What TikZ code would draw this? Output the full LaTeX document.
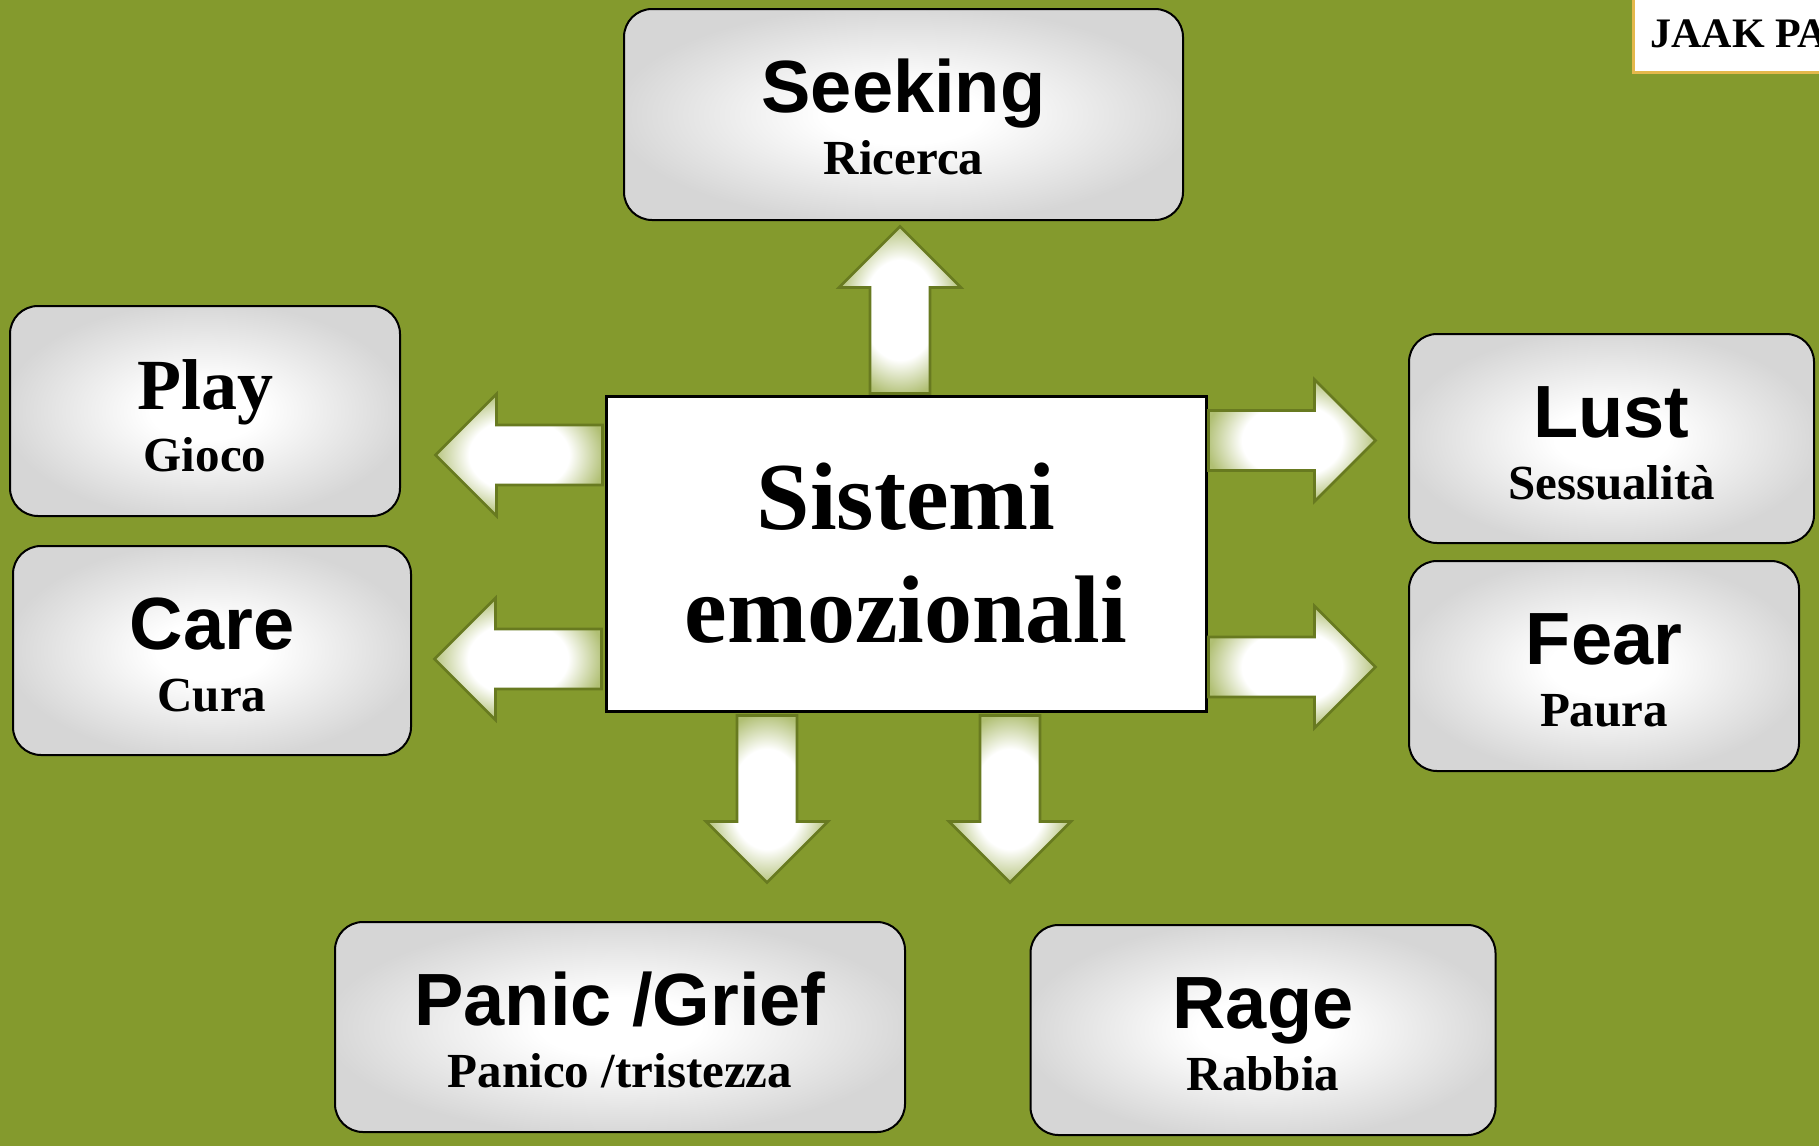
\documentclass[tikz,border=0pt]{standalone}
\usepackage{fontspec}
\setmainfont{Liberation Serif}
\setsansfont{Liberation Sans}
\usetikzlibrary{calc}

\definecolor{bgolive}{RGB}{132,154,45}
\definecolor{arrowline}{RGB}{104,122,32}
\definecolor{arrowedge}{RGB}{176,191,115}
\definecolor{boxedge}{RGB}{214,214,214}
\definecolor{jaakline}{RGB}{228,184,76}

\pgfdeclareradialshading{arrowshade}{\pgfpoint{0bp}{0bp}}{color(0bp)=(white); color(15bp)=(white); color(26bp)=(arrowedge); color(50bp)=(arrowedge)}
\pgfdeclareradialshading{boxshade}{\pgfpoint{0bp}{0bp}}{color(0bp)=(white); color(7bp)=(white); color(26bp)=(boxedge); color(50bp)=(boxedge)}

\tikzset{
  box/.style={draw=black, line width=1pt, rounded corners=14pt, shade, shading=boxshade, inner sep=0pt},
  title/.style={anchor=base, inner sep=0pt, font=\sffamily\bfseries\fontsize{37}{44}\selectfont},
  subtitle/.style={anchor=base, inner sep=0pt, font=\bfseries\fontsize{24.5}{29}\selectfont},
  fatarrow/.pic={
    \path[shade, shading=arrowshade, draw=arrowline, line width=1.3pt]
      (0,-30) -- (106,-30) -- (106,-61) -- (167,0) -- (106,61) -- (106,30) -- (0,30) -- cycle;
  }
}

\begin{document}
\begin{tikzpicture}[x=0.5pt, y=-0.5pt]
    \useasboundingbox (0,0) rectangle (1819,1146);
    \fill[bgolive] (0,0) rectangle (1819,1146);
    \clip (0,0) rectangle (1819,1146);

    % label in the corner
    \draw[jaakline, line width=1.5pt, fill=white] (1633,-10) rectangle (1840,72);
    \node[anchor=base west, inner sep=0pt, font=\bfseries\fontsize{21}{25}\selectfont] (jaak) at (1650,47) {JAAK PA};

    \node[draw=black, fill=white, line width=1.5pt, inner sep=0pt,
          minimum width=300pt, minimum height=157.5pt, align=center,
          font=\bfseries\fontsize{48}{56.5}\selectfont] (sistemi) at (906,553.5) {Sistemi\\emozionali};

    \foreach \a/\dx/\dy/\r in {north/-6/-1/90, west/-2/-98.5/180, west/-3/105.5/180,
                               east/1/-113/0, east/1/113.5/0, south/-139/3/-90, south/104/3/-90} {
      \pic[rotate=\r] at ($(sistemi.\a)+(\dx,\dy)$) {fatarrow};
    }

    \node[box, minimum width=279.5pt, minimum height=105.5pt] (seeking) at (903.5,114.5) {};
    \node[title] (seekingT) at ($(seeking.north)+(0,104)$) {Seeking};
    \node[subtitle] (seekingS) at ($(seeking.north)+(0,166)$) {Ricerca};

    \node[box, minimum width=195pt, minimum height=105pt] (play) at (205,411) {};
    \node[title, font=\bfseries\fontsize{36}{43}\selectfont] (playT) at ($(play.north)+(0,104)$) {Play};
    \node[subtitle] (playS) at ($(play.north)+(0,166)$) {Gioco};

    \node[box, minimum width=199pt, minimum height=104.5pt] (care) at (212,650.5) {};
    \node[title] (careT) at ($(care.north)+(0,104)$) {Care};
    \node[subtitle] (careS) at ($(care.north)+(0,166)$) {Cura};

    \node[box, minimum width=202.5pt, minimum height=104.5pt] (lust) at (1611.5,438.5) {};
    \node[title] (lustT) at ($(lust.north)+(0,104)$) {Lust};
    \node[subtitle] (lustS) at ($(lust.north)+(0,166)$) {Sessualità};

    \node[box, minimum width=195pt, minimum height=105pt] (fear) at (1604,666) {};
    \node[title] (fearT) at ($(fear.north)+(0,104)$) {Fear};
    \node[subtitle] (fearS) at ($(fear.north)+(0,166)$) {Paura};

    \node[box, minimum width=285pt, minimum height=105pt] (panic) at (620,1027) {};
    \node[title] (panicT) at ($(panic.north)+(0,104)$) {Panic /Grief};
    \node[subtitle] (panicS) at ($(panic.north)+(0,166)$) {Panico /tristezza};

    \node[box, minimum width=232.5pt, minimum height=105pt] (rage) at (1263,1030) {};
    \node[title] (rageT) at ($(rage.north)+(0,104)$) {Rage};
    \node[subtitle] (rageS) at ($(rage.north)+(0,166)$) {Rabbia};
\end{tikzpicture}
\end{document}
